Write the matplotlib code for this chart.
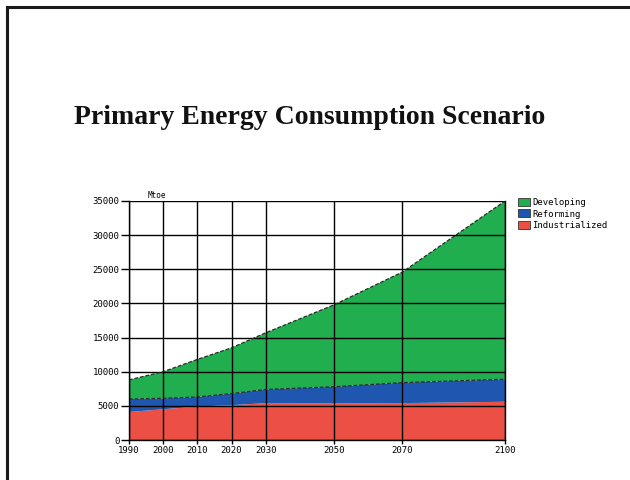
import matplotlib.pyplot as plt
from matplotlib.lines import Line2D
from matplotlib.patches import Patch

# Primary energy consumption scenario, Mtoe, stacked by region group
years = [1990, 2000, 2010, 2020, 2030, 2050, 2070, 2100]
industrialized = [4100, 4500, 4900, 5100, 5400, 5350, 5400, 5600]
reforming = [1900, 1600, 1400, 1700, 2000, 2450, 3000, 3300]
developing = [2800, 3900, 5500, 6700, 8300, 12000, 16200, 26100]

labels = ['Industrialized', 'Reforming', 'Developing']
colors = ['#ec5045', '#1f57b0', '#21ae4f']
y_ticks = [0, 5000, 10000, 15000, 20000, 25000, 30000, 35000]

fig = plt.figure(figsize=(6.3, 4.8), dpi=100)
fig.patch.set_facecolor('white')

# slide border (top and left edges)
fig.add_artist(Line2D([7 / 630, 7 / 630], [0, 1 - 7 / 480], color='#1a1a1a', lw=2.2))
fig.add_artist(Line2D([7 / 630, 1], [1 - 7 / 480, 1 - 7 / 480], color='#1a1a1a', lw=2.2))

fig.text(0.492, 1 - 118 / 480, 'Primary Energy Consumption Scenario',
         ha='center', va='center', fontsize=20, fontweight='bold',
         family='Liberation Serif', color='#111111')

ax = fig.add_axes([129 / 630, 40 / 480, 376 / 630, 239 / 480])
ax.stackplot(years, industrialized, reforming, developing,
             colors=colors, labels=labels, zorder=1)

# dashed outlines along the reforming and total tops
mid = [a + b for a, b in zip(industrialized, reforming)]
total = [m + d for m, d in zip(mid, developing)]
for top in (mid, total):
    ax.plot(years, top, color='#2a2a2a', lw=0.9, ls=(0, (3, 1.5)), zorder=3)

ax.set_xlim(1990, 2100)
ax.set_ylim(0, 35000)
ax.set_xticks(years)
ax.set_xticklabels([str(y) for y in years])
ax.set_yticks(y_ticks)
ax.set_yticklabels([str(v) for v in y_ticks])
ax.grid(True, color='black', lw=1.0, zorder=2)
ax.set_axisbelow(False)
ax.spines['top'].set_visible(False)
for side in ('left', 'bottom', 'right'):
    ax.spines[side].set_linewidth(1.0)
    ax.spines[side].set_zorder(4)
ax.tick_params(axis='y', length=6, width=1, pad=1, labelsize=6.5)
ax.tick_params(axis='x', length=3, width=1, pad=1, labelsize=6.5)
for t in ax.get_xticklabels() + ax.get_yticklabels():
    t.set_family('DejaVu Sans Mono')

ax.text(1995.5, 35200, 'Mtoe', fontsize=5.5, family='DejaVu Sans Mono',
        ha='left', va='bottom')

handles = [Patch(facecolor=c, edgecolor='#333333', lw=0.6)
           for c in reversed(colors)]
fig.legend(handles, list(reversed(labels)), loc='upper left',
           bbox_to_anchor=(518 / 630, 1 - 198 / 480), frameon=False,
           prop={'family': 'DejaVu Sans Mono', 'size': 6.5},
           handlelength=1.3, handleheight=1.0, handletextpad=0.3,
           labelspacing=0.25, borderaxespad=0, borderpad=0)

fig.savefig('out.png', dpi=100)
